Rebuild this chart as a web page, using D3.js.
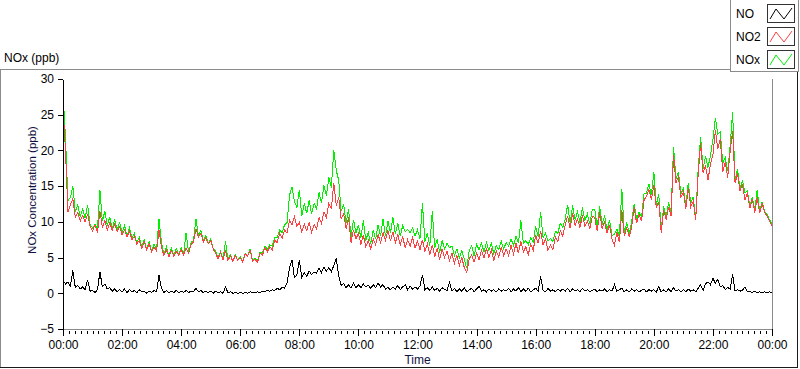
<!DOCTYPE html>
<html>
<head>
<meta charset="utf-8">
<title>NOx (ppb)</title>
<style>
  body { margin: 0; background: #fff; }
  svg text { font-family: Tahoma, "Liberation Sans", Arial, sans-serif; font-size: 11px; fill: #000; }
  .axis path, .axis line { stroke: #000; shape-rendering: crispEdges; }
  .trace { fill: none; stroke-width: 1; shape-rendering: crispEdges; }
</style>
<script src="https://d3js.org/d3.v7.min.js"></script>
</head>
<body>
<script>
// samples every 5 minutes, 00:00 -> 24:00 (one row per hour)
var NO = [
  1.8, 1.3, 1.6, 1.0, 3.2, 0.8, 1.1, 0.6, 0.9, 0.5, 1.9, 0.3,
  0.4, 0.1, 0.5, 3.0, 0.9, 1.3, 0.6, 0.8, 0.3, 0.6, 0.2, 0.5,
  0.2, 0.6, 0.1, 0.5, 0.2, 0.4, 0.1, 0.5, 0.2, 0.3, 0.0, 0.3,
  0.1, 0.4, 0.2, 2.5, 0.7, 0.1, 0.4, 0.1, 0.3, 0.1, 0.4, 0.1,
  0.3, 0.1, 0.4, 0.1, 0.3, 0.2, 0.7, 0.2, 0.4, 0.1, 0.3, 0.1,
  0.3, 0.0, 0.3, 0.1, 0.2, 0.0, 0.9, 0.1, 0.2, 0.0, 0.1, 0.0,
  0.1, 0.0, 0.1, 0.0, 0.2, 0.1, 0.1, 0.2, 0.1, 0.3, 0.2, 0.4,
  0.3, 0.5, 0.4, 0.7, 0.5, 0.8, 0.7, 1.5, 3.5, 4.7, 2.2, 2.6,
  4.6, 2.2, 2.9, 2.4, 3.1, 2.6, 3.0, 2.8, 3.5, 2.9, 3.7, 3.1,
  3.6, 3.0, 3.9, 4.9, 2.4, 1.1, 1.4, 0.8, 1.2, 0.7, 1.4, 0.8,
  1.2, 0.8, 1.3, 0.9, 1.1, 0.7, 1.2, 0.8, 1.4, 0.9, 1.2, 0.6,
  0.8, 0.5, 0.9, 0.6, 1.1, 0.5, 0.9, 1.2, 0.5, 1.0, 0.6, 0.9,
  0.6, 1.0, 2.6, 0.5, 0.8, 0.4, 0.9, 0.4, 0.7, 0.3, 0.8, 0.5,
  0.4, 1.5, 0.3, 0.7, 0.2, 0.6, 0.3, 0.8, 0.2, 0.5, 0.7, 0.2,
  0.6, 1.0, 0.3, 0.5, 0.2, 0.6, 0.3, 0.5, 0.2, 0.6, 0.3, 0.5,
  0.3, 0.7, 0.2, 0.6, 0.3, 0.8, 0.2, 0.6, 0.3, 0.7, 0.2, 0.5,
  0.7, 0.3, 2.4, 0.4, 0.2, 0.7, 0.3, 0.5, 0.2, 0.6, 0.3, 0.6,
  0.3, 0.7, 0.2, 0.6, 0.3, 0.5, 0.2, 0.7, 0.3, 0.5, 0.2, 0.4,
  0.6, 0.2, 0.5, 0.3, 0.6, 0.2, 0.5, 0.3, 1.2, 0.3, 0.5, 0.7,
  0.2, 0.5, 0.2, 0.6, 0.3, 0.5, 0.2, 0.4, 0.6, 0.2, 0.5, 0.3,
  0.5, 0.2, 0.9, 0.2, 0.5, 0.2, 0.6, 0.2, 0.8, 0.3, 0.5, 0.2,
  0.5, 0.2, 0.6, 0.3, 0.5, 0.2, 0.7, 1.2, 0.4, 1.3, 1.6, 1.2,
  2.1, 1.4, 2.0, 0.9, 1.1, 0.5, 0.8, 0.6, 2.7, 0.3, 0.5, 0.3,
  0.4, 0.9, 0.2, 0.3, 0.1, 0.3, 0.1, 0.2, 0.1, 0.2, 0.1, 0.2,
  0.1
];

var NO2 = [
  26.1, 20.0, 11.4, 12.4, 13.2, 10.6, 11.3, 10.1, 10.9, 10.0, 11.1, 9.4,
  8.7, 9.6, 8.5, 11.5, 9.2, 10.2, 8.9, 9.9, 8.8, 9.7, 8.6, 9.3,
  8.2, 8.9, 7.9, 8.7, 7.5, 8.0, 6.9, 7.4, 6.3, 7.2, 6.1, 6.9,
  5.8, 6.5, 5.9, 8.8, 6.4, 5.3, 6.1, 5.1, 6.0, 5.2, 5.9, 5.3,
  6.1, 5.4, 6.3, 5.6, 6.8, 7.2, 9.0, 7.9, 8.4, 7.2, 7.8, 6.9,
  7.4, 6.2, 5.6, 4.8, 5.7, 4.7, 6.0, 4.6, 5.2, 4.5, 5.3, 4.6,
  5.0, 4.4, 5.5, 5.2, 6.0, 4.5, 4.8, 4.3, 5.6, 5.3, 6.4, 5.8,
  6.5, 6.1, 7.4, 7.1, 8.4, 7.7, 8.9, 8.4, 10.2, 9.6, 10.7, 9.4,
  9.9, 8.6, 9.7, 8.8, 9.9, 8.5, 9.6, 9.0, 10.6, 9.8, 11.4, 10.6,
  12.6, 11.8, 15.5, 12.3, 13.4, 10.4, 11.1, 9.0, 10.6, 7.1, 8.9, 7.6,
  8.4, 6.9, 8.1, 6.5, 7.4, 6.2, 7.6, 6.8, 8.2, 7.1, 8.5, 7.4,
  8.8, 7.3, 8.6, 7.1, 8.2, 6.8, 7.9, 6.4, 7.5, 6.6, 7.8, 6.3,
  7.3, 6.1, 7.5, 5.9, 6.9, 5.4, 6.8, 5.1, 6.3, 4.7, 6.2, 5.0,
  5.9, 4.6, 5.6, 4.2, 5.3, 3.9, 5.0, 3.6, 2.9, 4.8, 5.4, 4.4,
  5.6, 4.7, 6.0, 4.9, 6.3, 5.0, 6.1, 4.6, 5.9, 5.1, 6.4, 5.3,
  6.2, 5.3, 6.7, 5.5, 7.0, 5.6, 7.3, 5.8, 6.5, 5.4, 6.9, 6.0,
  8.1, 7.0, 8.7, 6.8, 7.6, 6.0, 6.8, 6.1, 7.9, 7.2, 8.8, 8.0,
  9.6, 10.8, 9.1, 11.2, 9.5, 10.4, 9.2, 10.9, 9.4, 10.1, 9.0, 10.8,
  10.6, 8.7, 11.3, 9.1, 10.0, 8.4, 9.6, 7.6, 6.7, 8.5, 7.2, 11.6,
  8.0, 9.2, 7.9, 9.3, 12.0, 9.8, 11.0, 10.1, 13.0, 13.6, 14.5, 13.1,
  15.2, 12.0, 12.8, 8.5, 11.6, 10.3, 12.1, 10.8, 19.4, 15.5, 16.3, 13.4,
  14.2, 11.8, 14.8, 12.1, 12.9, 10.2, 16.6, 21.0, 16.9, 17.8, 15.9, 18.0,
  19.4, 22.8, 20.2, 21.6, 17.0, 18.4, 16.2, 19.9, 22.7, 15.4, 16.8, 14.3,
  15.3, 13.1, 14.0, 11.9, 13.2, 11.3, 13.4, 11.2, 12.6, 11.3, 10.8, 10.1,
  9.5
];

var NOx = [
  28.0, 21.9, 13.0, 13.4, 15.0, 11.4, 12.4, 10.7, 11.8, 10.5, 12.4, 9.7,
  9.1, 9.7, 9.0, 14.4, 10.1, 11.5, 9.5, 10.7, 9.1, 10.3, 8.8, 10.0,
  8.4, 9.5, 8.0, 9.2, 7.7, 8.4, 7.0, 7.9, 6.5, 7.5, 6.1, 7.2,
  5.9, 6.9, 6.1, 10.4, 7.1, 5.4, 6.5, 5.2, 6.3, 5.3, 6.3, 5.4,
  6.4, 5.5, 8.5, 5.7, 7.1, 7.4, 10.4, 8.1, 8.8, 7.3, 8.1, 7.0,
  7.7, 6.2, 5.9, 4.9, 5.9, 4.7, 7.3, 4.7, 5.4, 4.5, 5.4, 4.6,
  5.1, 4.4, 5.6, 5.2, 6.2, 4.6, 4.9, 4.5, 5.7, 5.6, 6.6, 6.2,
  6.8, 6.6, 7.8, 7.8, 8.9, 8.5, 9.6, 9.9, 13.7, 14.9, 12.9, 12.0,
  14.5, 10.8, 12.6, 11.2, 13.0, 11.1, 12.6, 11.8, 14.1, 12.7, 15.1, 13.7,
  16.2, 14.8, 20.1, 17.2, 15.8, 11.5, 12.5, 9.8, 11.8, 7.8, 10.3, 8.4,
  9.6, 7.7, 10.2, 7.4, 8.5, 6.9, 8.8, 7.6, 9.6, 8.0, 10.4, 8.0,
  10.1, 8.4, 10.6, 8.3, 9.8, 8.0, 9.5, 8.6, 8.9, 8.5, 9.2, 8.0,
  8.9, 7.6, 12.6, 7.2, 8.4, 6.6, 11.5, 6.3, 7.6, 5.7, 7.4, 6.2,
  7.0, 6.4, 6.6, 5.3, 6.2, 4.9, 6.0, 4.8, 3.5, 5.9, 6.7, 5.2,
  6.8, 6.1, 7.0, 5.8, 7.1, 6.0, 7.0, 5.5, 6.7, 6.1, 7.3, 6.2,
  7.1, 6.6, 7.6, 6.7, 8.0, 7.0, 10.2, 7.0, 7.4, 6.8, 7.8, 7.2,
  9.4, 7.9, 11.4, 7.8, 8.4, 7.3, 7.7, 7.2, 8.7, 8.4, 9.8, 9.2,
  10.4, 12.4, 9.8, 12.3, 10.3, 11.4, 9.9, 12.0, 10.2, 11.1, 9.7, 11.7,
  11.8, 9.2, 12.2, 9.6, 10.9, 8.8, 10.3, 8.1, 8.3, 9.0, 7.9, 14.6,
  8.4, 9.9, 8.3, 10.1, 12.5, 10.4, 11.4, 10.6, 13.9, 14.0, 15.3, 13.7,
  17.0, 12.4, 13.9, 8.9, 12.2, 10.6, 12.8, 11.2, 20.5, 16.0, 17.0, 13.8,
  14.8, 12.1, 15.5, 12.5, 13.5, 10.5, 17.4, 21.9, 17.4, 19.2, 17.6, 19.3,
  21.5, 24.5, 22.3, 22.6, 18.2, 19.0, 17.1, 20.6, 25.4, 15.8, 17.4, 14.7,
  15.8, 14.1, 14.3, 12.3, 13.4, 11.7, 14.5, 11.4, 12.8, 11.5, 11.0, 10.3,
  9.7
];

var seriesNames = ["NO", "NO2", "NOx"];
var seriesColors = ["#000000", "#ff4040", "#00f000"];
var yTicks = [-5, 0, 5, 10, 15, 20, 25, 30];
var xTicks = [0, 2, 4, 6, 8, 10, 12, 14, 16, 18, 20, 22, 24];
var stepHours = 5 / 60;

var W = 800, H = 369;
var plot = {left: 63, right: 772, top: 79, bottom: 329};

var svg = d3.select("body").append("svg")
  .attr("width", W)
  .attr("height", H);

// outer frame
var frame = svg.append("g").attr("shape-rendering", "crispEdges");
frame.append("line").attr("x1", 0).attr("x2", 730).attr("y1", 69.5).attr("y2", 69.5).attr("stroke", "#8c8c8c");
frame.append("line").attr("x1", 0.5).attr("x2", 0.5).attr("y1", 69).attr("y2", 368).attr("stroke", "#8c8c8c");
frame.append("line").attr("x1", 0).attr("x2", 798).attr("y1", 367.5).attr("y2", 367.5).attr("stroke", "#1a1a1a");
frame.append("line").attr("x1", 797.5).attr("x2", 797.5).attr("y1", 72).attr("y2", 368).attr("stroke", "#1a1a1a");

svg.append("text")
  .attr("x", 4)
  .attr("y", 62)
  .style("font-size", "12px")
  .text("NOx (ppb)");

// plot area
svg.append("rect")
  .attr("x", plot.left).attr("y", plot.top)
  .attr("width", plot.right - plot.left).attr("height", plot.bottom - plot.top)
  .attr("fill", "#fff");

var x = d3.scaleLinear().domain([0, 24]).range([plot.left, plot.right]);
var y = d3.scaleLinear().domain([-5, 30]).range([plot.bottom, plot.top]);

frame.append("line").attr("x1", plot.left).attr("x2", plot.right).attr("y1", plot.top + 0.5).attr("y2", plot.top + 0.5).attr("stroke", "#000");
frame.append("line").attr("x1", plot.right + 0.5).attr("x2", plot.right + 0.5).attr("y1", plot.top).attr("y2", plot.bottom + 1).attr("stroke", "#8c8c8c");
frame.append("line").attr("x1", plot.left).attr("x2", plot.right + 1).attr("y1", plot.bottom + 0.5).attr("y2", plot.bottom + 0.5).attr("stroke", "#8c8c8c");

// traces: NOx under NO2, then NO
var line = d3.line()
  .x(function (d, i) { return x(i * stepHours); })
  .y(function (d) { return y(d); });

var g = svg.append("g");
g.append("path").datum(NOx).attr("class", "trace").attr("stroke", seriesColors[2]).attr("d", line);
g.append("path").datum(NO2).attr("class", "trace").attr("stroke", seriesColors[1]).attr("d", line);
g.append("path").datum(NO).attr("class", "trace").attr("stroke", seriesColors[0]).attr("d", line);

// y axis
svg.append("g")
  .attr("class", "axis")
  .attr("transform", "translate(" + plot.left + ",0)")
  .call(d3.axisLeft(y).tickValues(yTicks).tickSize(5).tickSizeOuter(0).tickPadding(4))
  .call(function (a) { a.selectAll("text").style("font-size", "12px"); });

// x axis: major ticks every 2 h, minor every 12 min
var minor = d3.range(0, 24 * 5 + 1).map(function (k) { return k / 5; })
  .filter(function (h) { return Math.abs(h / 2 - Math.round(h / 2)) > 1e-6; });

svg.append("g")
  .attr("class", "axis")
  .attr("shape-rendering", "crispEdges")
  .selectAll("line")
  .data(minor)
  .enter()
  .append("line")
  .attr("x1", function (d) { return Math.round(x(d)) + 0.5; })
  .attr("x2", function (d) { return Math.round(x(d)) + 0.5; })
  .attr("y1", plot.bottom + 2)
  .attr("y2", plot.bottom + 5)
  .attr("stroke", "#000");

var xa = svg.append("g")
  .attr("class", "axis")
  .attr("transform", "translate(0," + plot.bottom + ")")
  .call(d3.axisBottom(x).tickValues(xTicks).tickSize(7).tickPadding(4)
    .tickFormat(function (h) { return d3.format("02")(h % 24) + ":00"; }))
  .call(function (a) { a.select(".domain").remove(); });
xa.selectAll("text").style("font-size", "12px");

// axis names
svg.append("text")
  .attr("transform", "translate(36,190) rotate(-90)")
  .attr("text-anchor", "middle")
  .style("fill", "#101040")
  .style("font-size", "11.5px")
  .text("NOx Concentration (ppb)");

svg.append("text")
  .attr("x", (plot.left + plot.right) / 2)
  .attr("y", 364)
  .attr("text-anchor", "middle")
  .style("fill", "#101040")
  .style("font-size", "12px")
  .text("Time");

// legend
var lg = svg.append("g").attr("shape-rendering", "crispEdges");
lg.append("rect")
  .attr("x", 730.5).attr("y", -1).attr("width", 68).attr("height", 72.5)
  .attr("fill", "#fff").attr("stroke", "#8c8c8c");

var items = lg.selectAll("g.item")
  .data(seriesNames)
  .enter()
  .append("g")
  .attr("class", "item")
  .attr("transform", function (d, i) { return "translate(0," + (i * 23) + ")"; });

items.append("text")
  .attr("x", 736)
  .attr("y", 18)
  .style("font-size", "12px")
  .text(function (d) { return d; });

items.append("rect")
  .attr("x", 767.5).attr("y", 4.5).attr("width", 27).attr("height", 18)
  .attr("fill", "#fff").attr("stroke", "#333");

items.append("polyline")
  .attr("points", "770,19 776,9 784,19 792,8")
  .attr("fill", "none")
  .attr("shape-rendering", "auto")
  .attr("stroke", function (d, i) { return seriesColors[i]; });
</script>
</body>
</html>
